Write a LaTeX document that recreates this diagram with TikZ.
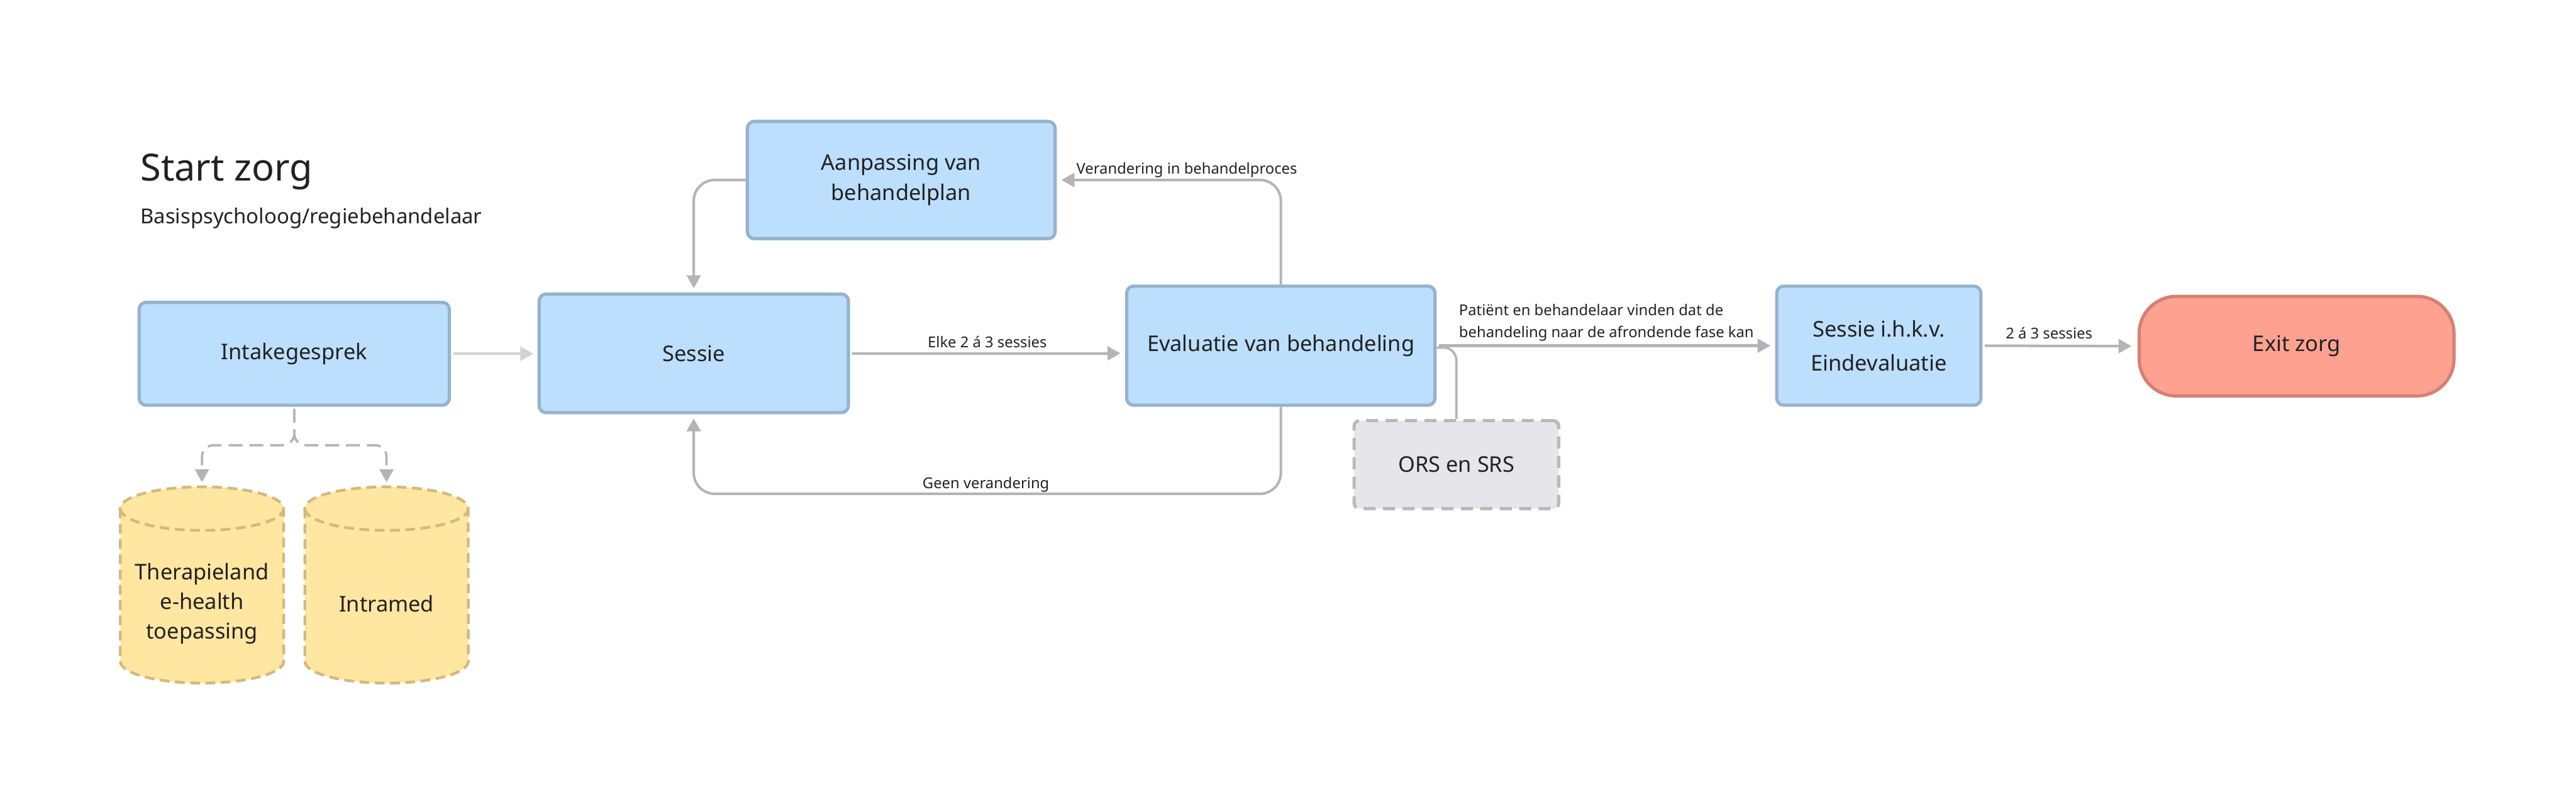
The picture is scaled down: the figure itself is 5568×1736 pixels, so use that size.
\documentclass[tikz,border=0pt]{standalone}
\usepackage{fontspec}
\setmainfont{Noto Sans}
\usetikzlibrary{arrows.meta,calc}
\definecolor{boxfill}{HTML}{BCDFFD}
\definecolor{boxline}{HTML}{95B2CF}
\definecolor{exitfill}{HTML}{FFA190}
\definecolor{exitline}{HTML}{D58073}
\definecolor{cylfill}{HTML}{FFE6A1}
\definecolor{cylline}{HTML}{D5B87B}
\definecolor{orsfill}{HTML}{E6E5EA}
\definecolor{orsline}{HTML}{B9B8BC}
\definecolor{conncol}{HTML}{B4B3B8}
\definecolor{connlight}{HTML}{D2D2D5}
\definecolor{txt}{HTML}{222222}
\begin{document}
\begin{tikzpicture}[x=0.01cm,y=0.01cm,
  every node/.style={text=txt},
  bluebox/.style={draw=boxline, fill=boxfill, line width=0.07cm, rounded corners=0.15cm, inner sep=0pt, align=center, font=\fontsize{13.3}{18.5}\selectfont},
  exitbox/.style={draw=exitline, fill=exitfill, line width=0.07cm, rounded corners=0.8cm, inner sep=0pt, align=center, font=\fontsize{13.3}{18.5}\selectfont},
  orsbox/.style={draw=orsline, fill=orsfill, line width=0.07cm, dash pattern=on 0.26cm off 0.16cm, rounded corners=0.12cm, inner sep=0pt, align=center, font=\fontsize{13.3}{18.5}\selectfont},
  cylbody/.style={draw=cylline, fill=cylfill, line width=0.06cm, dash pattern=on 0.21cm off 0.12cm},
  cylrim/.style={draw=cylline, line width=0.06cm, dash pattern=on 0.21cm off 0.12cm},
  cyltext/.style={inner sep=0pt, align=center, font=\fontsize{13.3}{18.2}\selectfont},
  lbl/.style={inner sep=0pt, font=\fontsize{9.2}{13.7}\selectfont},
  conn/.style={draw=conncol, line width=0.055cm, -{Triangle[length=0.28cm,width=0.3cm]}},
  orsconn/.style={draw=conncol, line width=0.05cm},
  forkarrow/.style={draw=conncol, line width=0.05cm, dash pattern=on 0.3cm off 0.15cm, rounded corners=0.25cm, -{Triangle[length=0.28cm,width=0.3cm]}, shorten >=0.1cm, shorten <=0.04cm}
]
\useasboundingbox[fill=white] (0,0) rectangle (5568,1736);

% titles
\node[anchor=base west, inner sep=0pt, font=\fontsize{23}{28}\selectfont] (title) at (303,1345) {Start zorg};
\node[anchor=base west, inner sep=0pt, font=\fontsize{12.7}{15}\selectfont] (sub) at (303,1253) {Basispsycholoog/regiebehandelaar};

% boxes
\node[bluebox, minimum width=6.70cm, minimum height=2.22cm] (intake) at (636,971.5) {Intakegesprek};
\node[bluebox, minimum width=6.68cm, minimum height=2.56cm] (sessie) at (1499.5,972.5) {Sessie};
\node[bluebox, minimum width=6.65cm, minimum height=2.53cm] (aanp) at (1948,1347) {Aanpassing van\\behandelplan};
\node[bluebox, minimum width=6.66cm, minimum height=2.57cm] (eval) at (2768.5,989) {Evaluatie van behandeling};
\node[bluebox, minimum width=4.41cm, minimum height=2.57cm, font=\fontsize{13.3}{20.8}\selectfont] (eind) at (4061,989) {Sessie i.h.k.v.\\Eindevaluatie};
\node[exitbox, minimum width=6.80cm, minimum height=2.15cm] (exit) at (4964,988) {Exit zorg};
\node[orsbox, minimum width=4.42cm, minimum height=1.90cm] (ors) at (3148,732) {ORS en SRS};

% cylinders
\path[cylbody] (260,637) -- (260,307) arc[start angle=180,end angle=360,x radius=1.765cm,y radius=0.47cm] -- (613,637) arc[start angle=0,end angle=180,x radius=1.765cm,y radius=0.47cm] -- cycle;
\path[cylrim] (260,637) arc[start angle=180,end angle=360,x radius=1.765cm,y radius=0.47cm];
\path[cylbody] (659,637) -- (659,307) arc[start angle=180,end angle=360,x radius=1.765cm,y radius=0.47cm] -- (1012,637) arc[start angle=0,end angle=180,x radius=1.765cm,y radius=0.47cm] -- cycle;
\path[cylrim] (659,637) arc[start angle=180,end angle=360,x radius=1.765cm,y radius=0.47cm];
\coordinate (c1top) at (436.5,684);
\coordinate (c2top) at (835.5,684);
\node[cyltext] (cyl1) at (436.5,432) {Therapieland\\e-health\\toepassing};
\node[cyltext] (cyl2) at (835.5,432) {Intramed};

% connectors
\draw[conn, draw=connlight, shorten <=0.05cm, shorten >=0.09cm] (intake.east) -- (intake.east -| sessie.west);
\draw[conn, shorten <=0.05cm, shorten >=0.1cm] (sessie.east) -- (sessie.east -| eval.west);
\node[lbl, anchor=base] (l1) at (2134,985) {Elke 2 á 3 sessies};

\draw[orsconn, rounded corners=0.28cm] ([yshift=-0.04cm]eval.east) -| (ors.north);
\draw[conn, shorten <=0.05cm, shorten >=0.1cm] (eval.east) -- (eind.west);
\node[lbl, anchor=west, align=left] (l2) at (3153,1039) {Patiënt en behandelaar vinden dat de\\behandeling naar de afrondende fase kan};

\draw[conn, shorten <=0.05cm, shorten >=0.13cm] (eind.east) -- (exit.west);
\node[lbl, anchor=base] (l3) at (4429,1004) {2 á 3 sessies};

\draw[conn, rounded corners=0.45cm, shorten >=0.1cm] (eval.north) |- (aanp.east);
\node[lbl, anchor=base west] (l4) at (2326,1360) {Verandering in behandelproces};

\draw[conn, rounded corners=0.45cm, shorten >=0.09cm] (aanp.west) -| (sessie.north);

\coordinate (gy) at (0,669);
\draw[conn, rounded corners=0.45cm, shorten >=0.09cm] (eval.south) -- (eval.south |- gy) -| (sessie.south);
\node[lbl, anchor=base] (l5) at (2131,681) {Geen verandering};

\coordinate (fork) at (636,774);
\draw[forkarrow] (intake.south) -- (fork) -| (c1top);
\draw[forkarrow] (intake.south) -- (fork) -| (c2top);
\end{tikzpicture}
\end{document}
